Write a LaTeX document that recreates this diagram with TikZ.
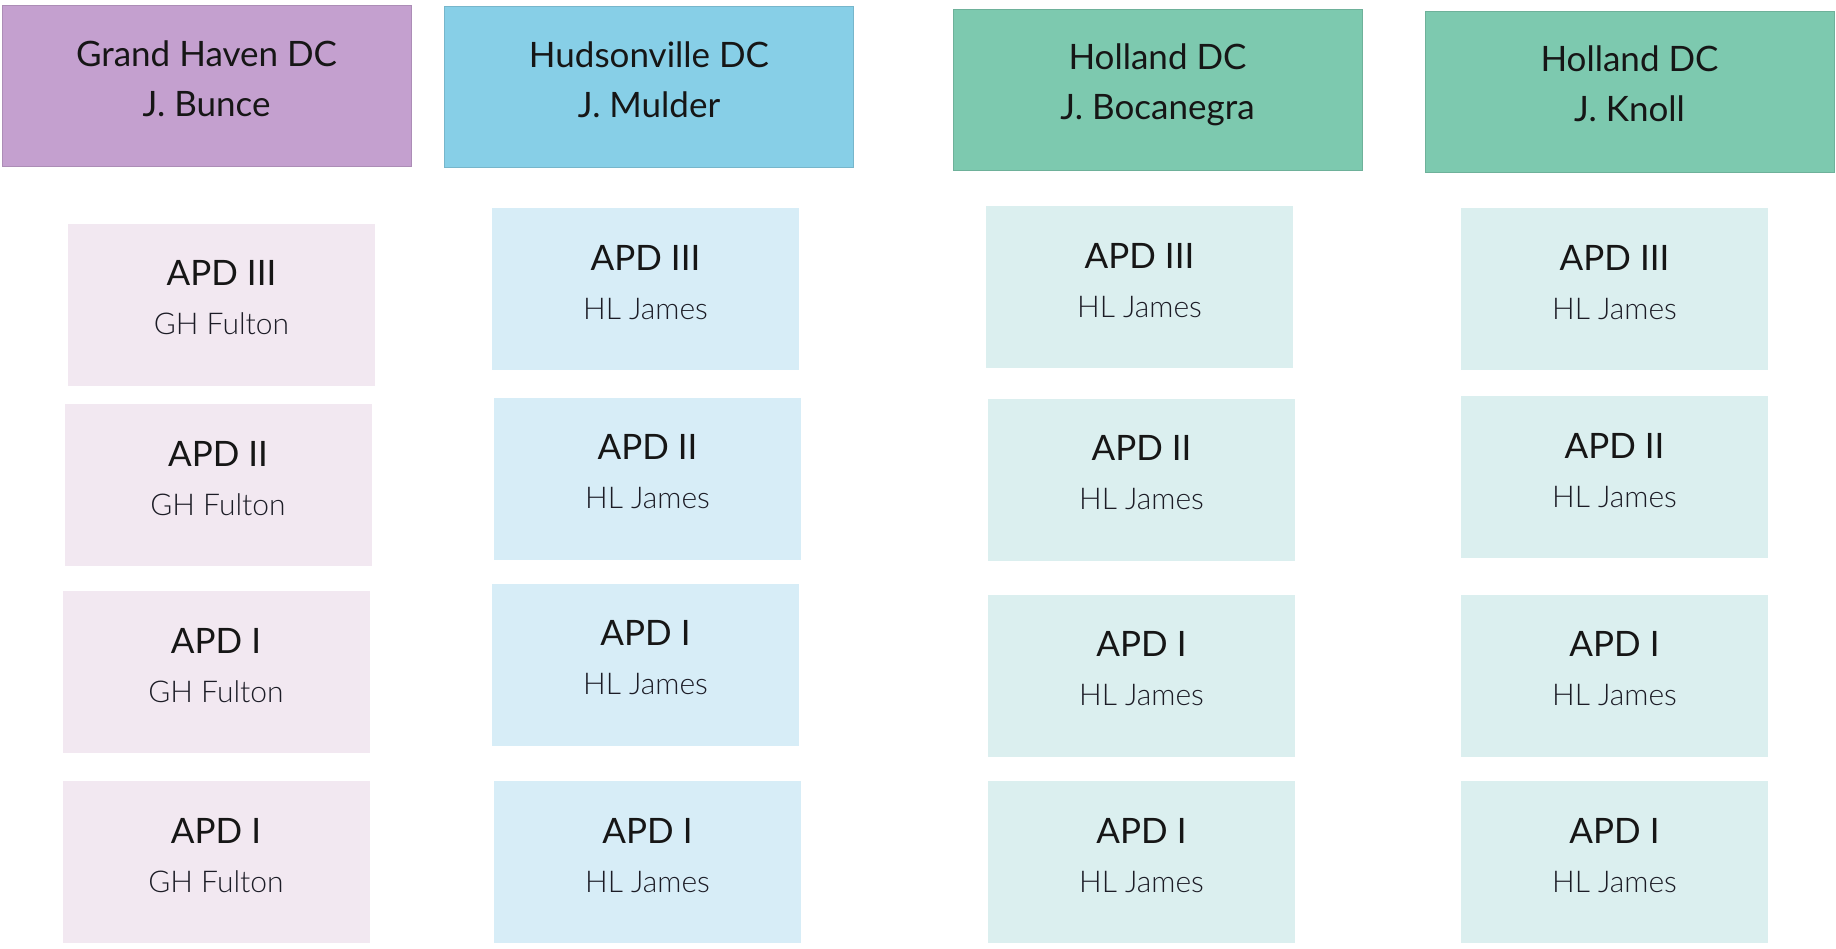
\documentclass[tikz,border=0pt]{standalone}
\usepackage{fontspec}
\setmainfont{Lato}
\newfontfamily\subfont{Lato Light}
\definecolor{hdP}{HTML}{C4A0CF}
\definecolor{hdB}{HTML}{87CFE7}
\definecolor{hdT}{HTML}{7DC9AF}
\definecolor{kdP}{HTML}{F2E8F1}
\definecolor{kdB}{HTML}{D7EDF7}
\definecolor{kdT}{HTML}{DBEFEF}
\definecolor{ink}{HTML}{161616}
\definecolor{subink}{HTML}{1C1C26}
\tikzset{
  hdbox/.style={rectangle, minimum width=409pt, minimum height=161pt, inner sep=0pt, line width=1pt},
  kidbox/.style={rectangle, minimum width=307pt, minimum height=162pt, inner sep=0pt},
  hdtext/.style={inner sep=0pt, text=ink, font=\fontsize{35}{40}\selectfont},
  titletext/.style={inner sep=0pt, text=ink, font=\fontsize{35}{40}\selectfont},
  subtext/.style={inner sep=0pt, text=subink, font=\subfont\fontsize{30}{34}\selectfont},
}
\newcommand\hdnode[6]{%
  \node[hdbox, fill=#4, draw=#4!88!black] (#1) at (#2,#3) {};
  \node[hdtext, anchor=base] (#1a) at ([yshift=20pt]#1.center) {#5};
  \node[hdtext, anchor=base] (#1b) at ([yshift=-30pt]#1.center) {#6};}
\newcommand\kidnode[6]{%
  \node[kidbox, fill=#4] (#1) at (#2,#3) {};
  \node[titletext, anchor=base] (#1a) at ([yshift=19pt]#1.center) {#5};
  \node[subtext, anchor=base] (#1b) at ([yshift=-30pt]#1.center) {#6};}
\begin{document}
\begin{tikzpicture}[x=1pt,y=-1pt]
\useasboundingbox[fill=white] (0,0) rectangle (1836,948);
% headers
\hdnode{h1}{206.5}{86}{hdP}{Grand Haven DC}{J. Bunce}
\hdnode{h2}{649}{87}{hdB}{Hudsonville DC}{J. Mulder}
\hdnode{h3}{1157.5}{89.5}{hdT}{Holland DC}{J. Bocanegra}
\hdnode{h4}{1629.5}{91.5}{hdT}{Holland DC}{J. Knoll}
% column 1
\kidnode{a1}{221.5}{304.5}{kdP}{APD III}{GH Fulton}
\kidnode{a2}{218}{485}{kdP}{APD II}{GH Fulton}
\kidnode{a3}{216}{672}{kdP}{APD I}{GH Fulton}
\kidnode{a4}{216}{862}{kdP}{APD I}{GH Fulton}
% column 2
\kidnode{b1}{645.5}{289}{kdB}{APD III}{HL James}
\kidnode{b2}{647.5}{478.5}{kdB}{APD II}{HL James}
\kidnode{b3}{645.5}{664.5}{kdB}{APD I}{HL James}
\kidnode{b4}{647.5}{862}{kdB}{APD I}{HL James}
% column 3
\kidnode{c1}{1139.5}{287}{kdT}{APD III}{HL James}
\kidnode{c2}{1141.5}{479.5}{kdT}{APD II}{HL James}
\kidnode{c3}{1141.5}{675.5}{kdT}{APD I}{HL James}
\kidnode{c4}{1141.5}{862}{kdT}{APD I}{HL James}
% column 4
\kidnode{d1}{1614.5}{289}{kdT}{APD III}{HL James}
\kidnode{d2}{1614.5}{477}{kdT}{APD II}{HL James}
\kidnode{d3}{1614.5}{675.5}{kdT}{APD I}{HL James}
\kidnode{d4}{1614.5}{862}{kdT}{APD I}{HL James}
\end{tikzpicture}
\end{document}
